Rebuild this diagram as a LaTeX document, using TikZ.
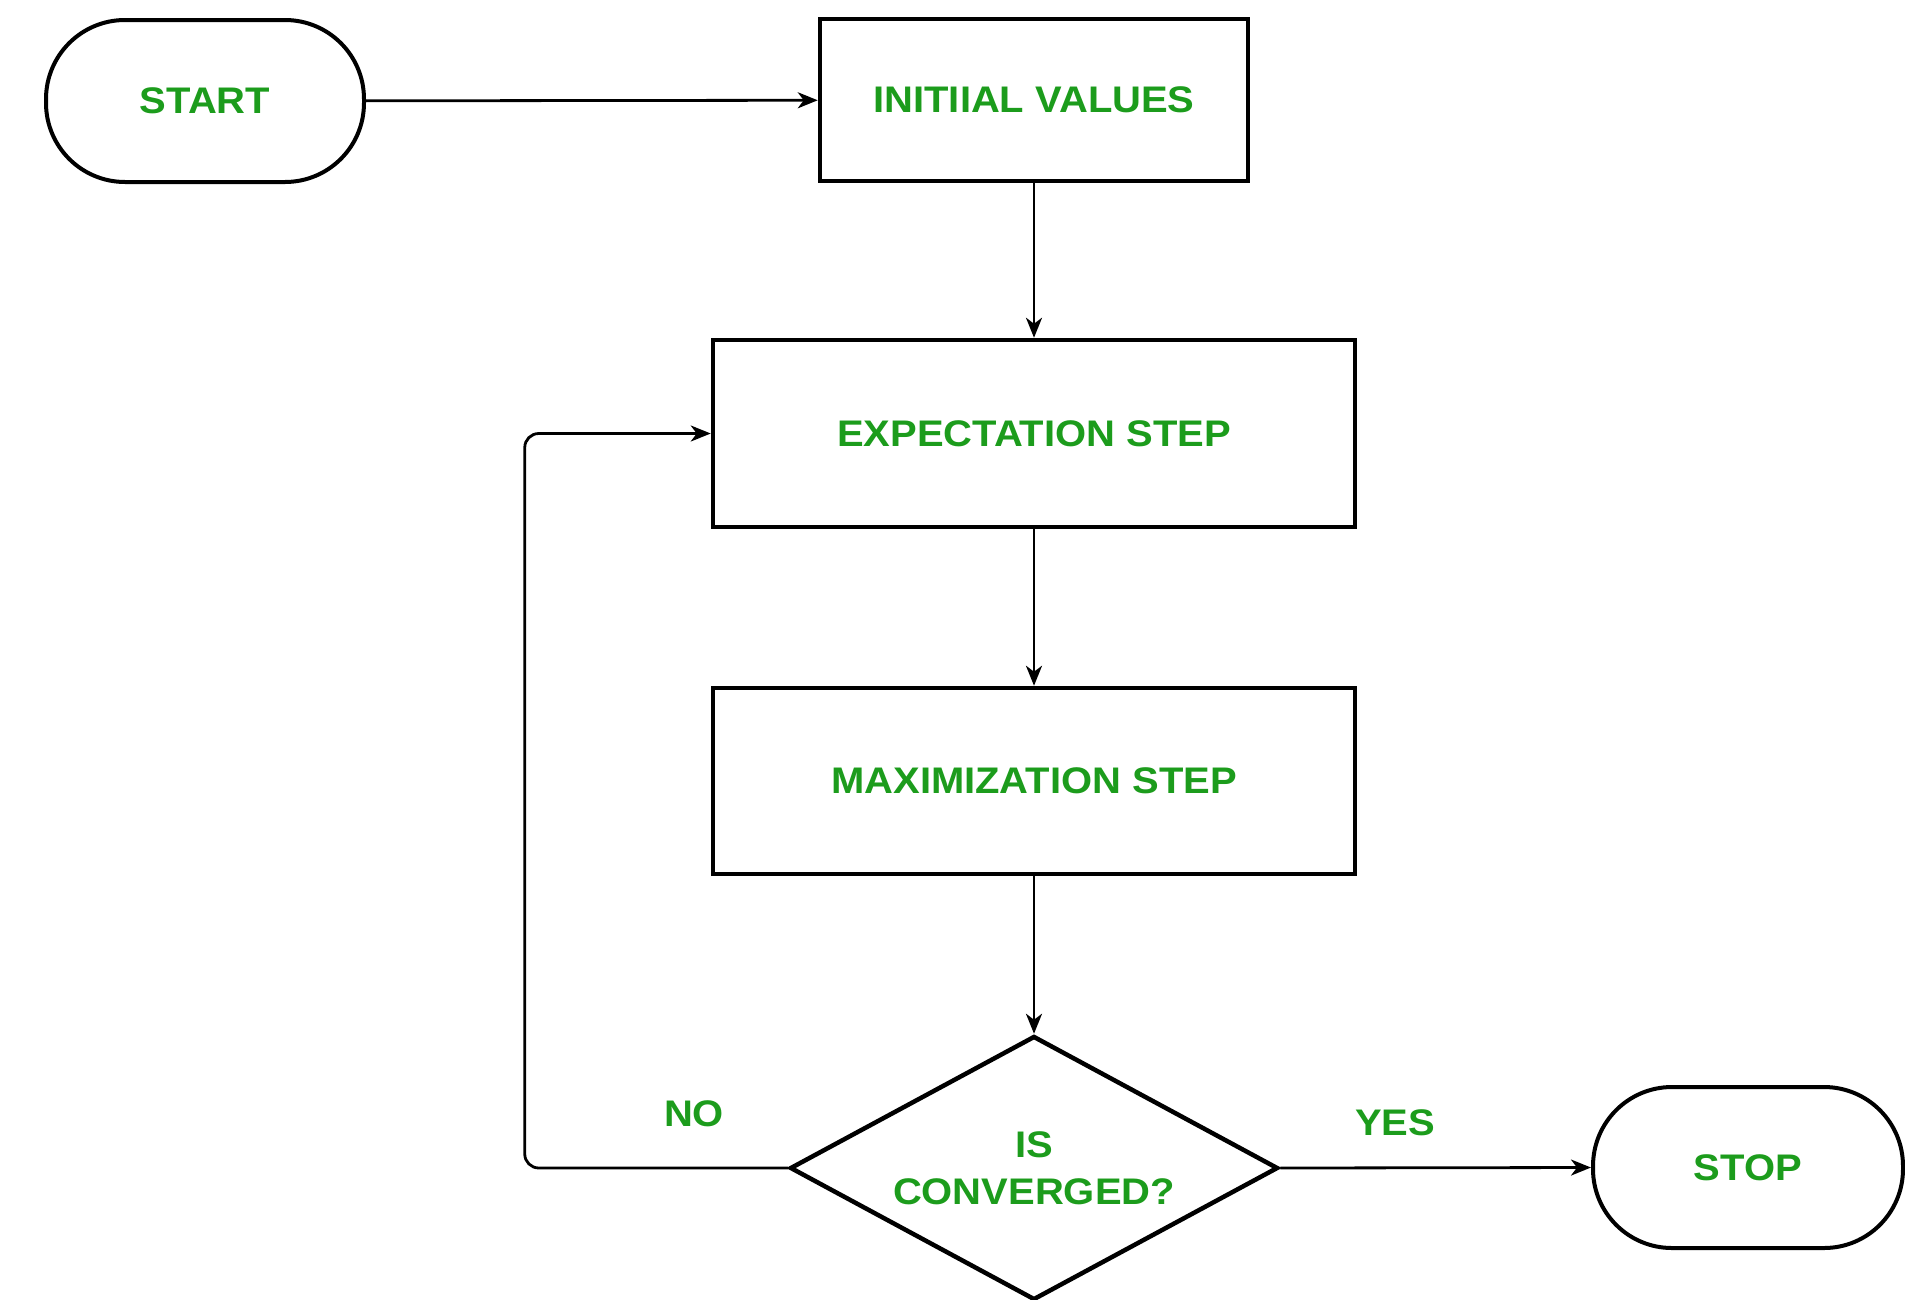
\documentclass[tikz,border=0pt]{standalone}
\usepackage{fontspec}
\setmainfont{Liberation Sans}[FakeStretch=1.08]
\usetikzlibrary{shapes.geometric,arrows.meta}
\definecolor{txtgreen}{RGB}{28,156,28}
\tikzset{
  x=1pt, y=-1pt,
  lbl/.style={text=txtgreen, font=\fontsize{37}{47}\selectfont\bfseries},
  procbox/.style={draw=black, line width=4.5pt, rectangle, inner sep=0pt, lbl},
  term/.style={draw=black, line width=4pt, rectangle, rounded corners=79pt, inner sep=0pt, lbl},
  decide/.style={draw=black, line width=4.5pt, diamond, inner sep=0pt, align=center, lbl},
  arr/.style={draw=black, line width=2.8pt, -{Stealth[length=20pt,width=16pt,inset=6pt]}},
}
\begin{document}
\begin{tikzpicture}
\useasboundingbox[fill=white] (0,0) rectangle (1905,1299);
\node[term, minimum width=318pt, minimum height=162pt] (start) at (205,101) {START};
\node[procbox, minimum width=428pt, minimum height=162pt] (init) at (1034,100) {INITIIAL VALUES};
\node[procbox, minimum width=642pt, minimum height=187pt] (exp) at (1034,433.5) {EXPECTATION STEP};
\node[procbox, minimum width=642pt, minimum height=186pt] (max) at (1034,781) {MAXIMIZATION STEP};
\node[decide, minimum width=488pt, minimum height=264pt, aspect=1.85] (dec) at (1034,1168) {IS\\CONVERGED?};
\node[term, minimum width=310pt, minimum height=161pt] (stop) at (1748,1167.5) {STOP};
\node[lbl] (no) at (694,1114) {NO};
\node[lbl] (yes) at (1395,1123) {YES};
\draw[arr] (start) -- (init);
\draw[arr] (init) -- (exp);
\draw[arr] (exp) -- (max);
\draw[arr] (max) -- (dec);
\draw[arr] (dec.east) -- (stop.west);
\draw[arr, rounded corners=14pt] (dec.west) -- ++(-263,0) |- (exp.west);
\end{tikzpicture}
\end{document}
